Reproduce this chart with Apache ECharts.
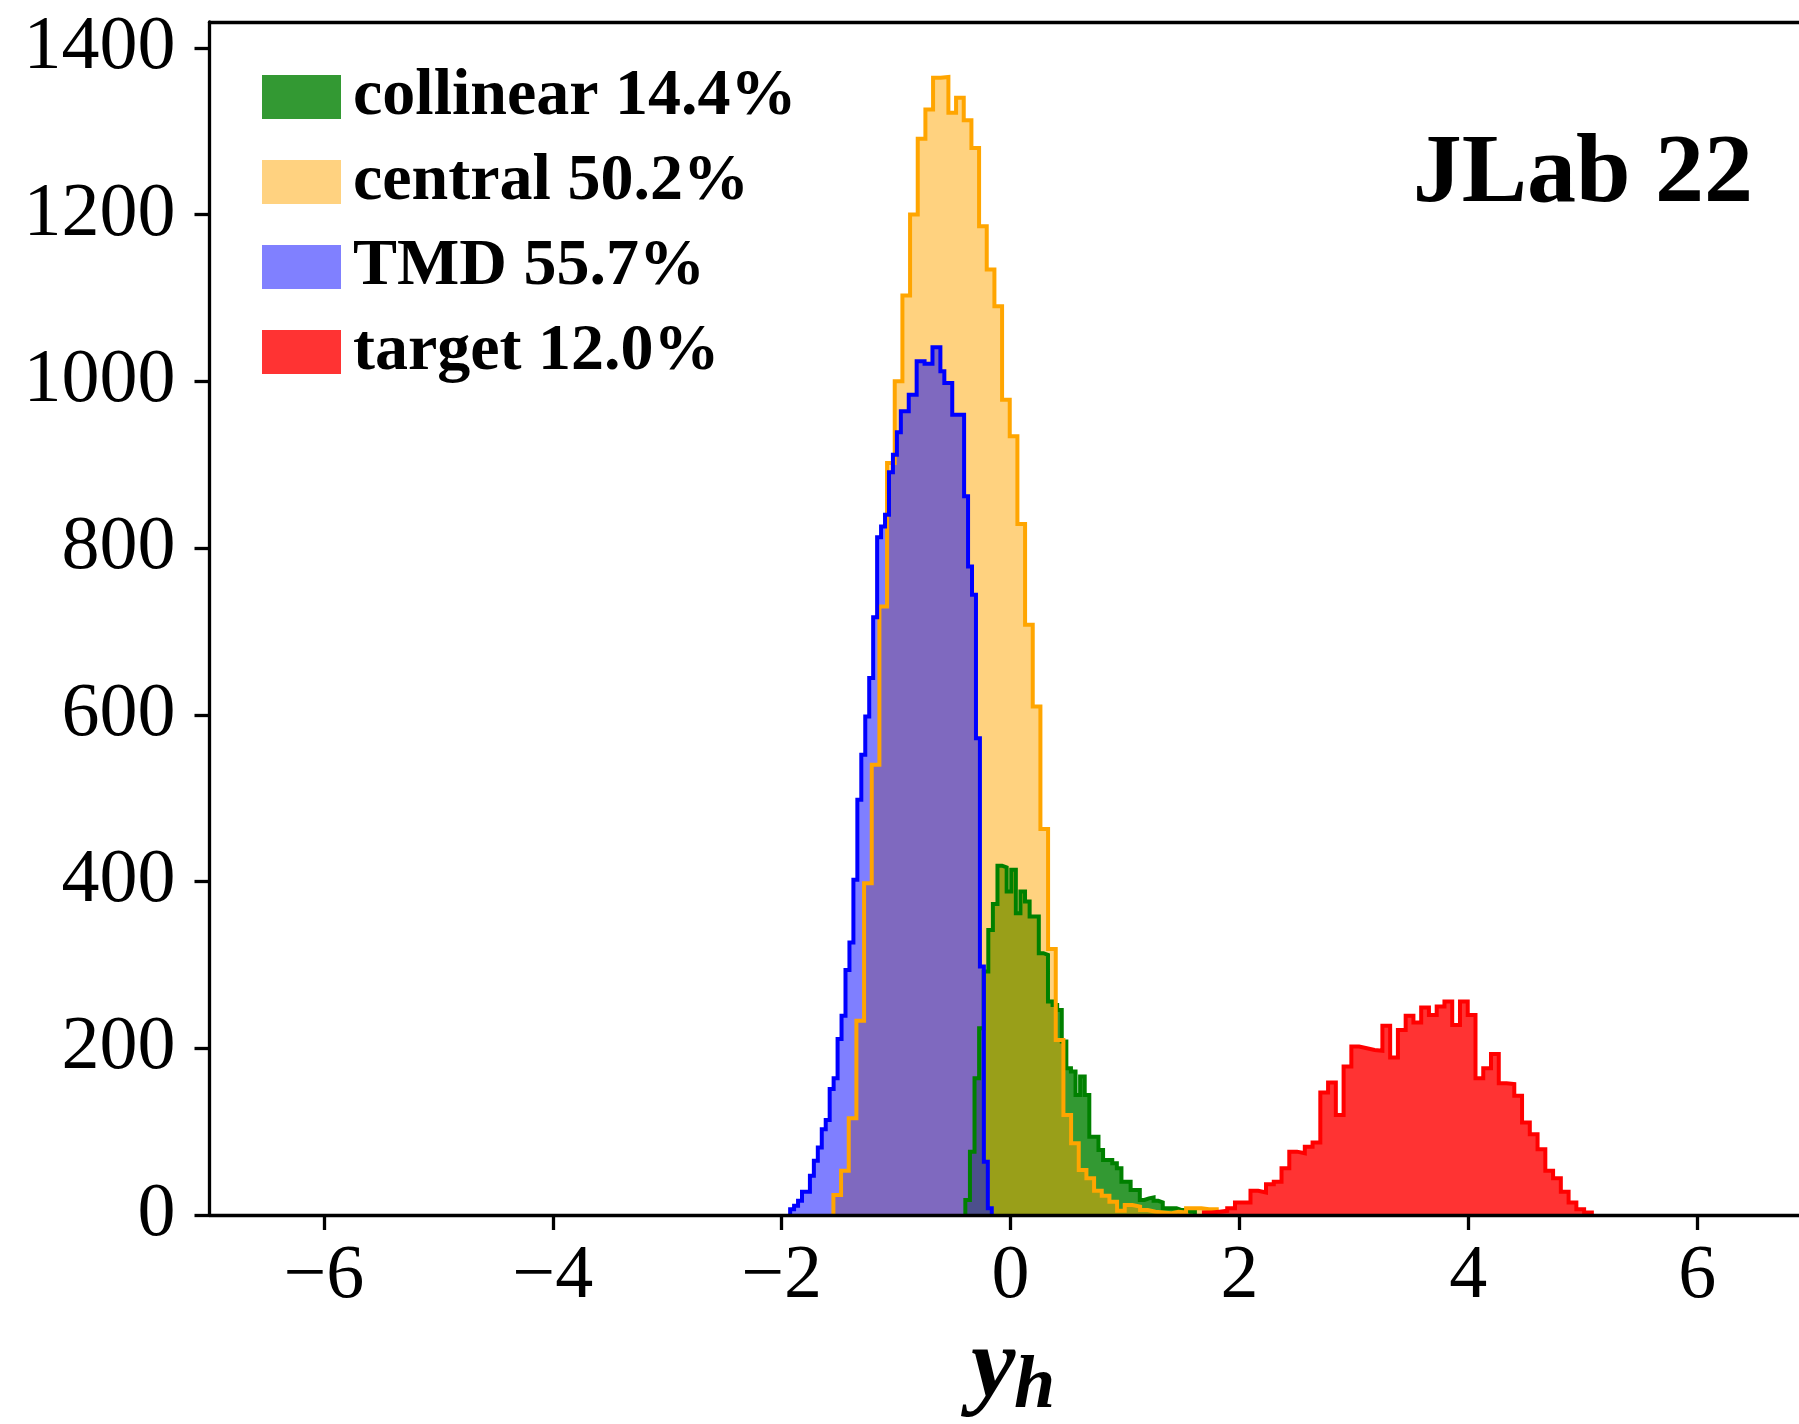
<!DOCTYPE html>
<html>
<head>
<meta charset="utf-8">
<script src="https://cdn.jsdelivr.net/npm/echarts@6/dist/echarts.min.js"></script>
<style>
  html, body { margin: 0; padding: 0; background: #fff; }
  #chart { width: 1799px; height: 1424px; }
</style>
</head>
<body>
<div id="chart"></div>
<script>
// Axis ticks
const xTickValues = [-6, -4, -2, 0, 2, 4, 6];
const yTickValues = [0, 200, 400, 600, 800, 1000, 1200, 1400];

// Legend labels (region name + fraction of events)
const seriesLabels = ['collinear 14.4%', 'central 50.2%', 'TMD 55.7%', 'target 12.0%'];

// Histogram of y_h per region: [first edge, last edge] and counts in equal-width bins
const collinearRange = [-0.395, 1.611];
const collinearCounts = [18, 76, 164, 224, 292, 342, 373, 419, 417, 388,
  414, 362, 388, 376, 358, 358, 314, 312, 256, 252,
  246, 208, 176, 172, 144, 166, 144, 94, 94, 78,
  66, 66, 62, 56, 40, 40, 30, 30, 18, 20,
  21, 17, 15, 8, 8, 8, 6, 6, 4, 4];

const centralRange = [-1.548, 1.802];
const centralCounts = [24, 53, 116, 233, 398, 540, 730, 902, 1000, 1103,
  1200, 1291, 1326, 1364, 1365, 1322, 1340, 1313, 1280, 1186,
  1134, 1090, 978, 934, 829, 708, 610, 463, 319, 210,
  120, 86, 54, 44, 29, 23, 16, 5, 12, 10,
  6, 4, 3, 2, 4, 3, 8, 8, 7, 7];

const tmdRange = [-1.926, -0.164];
const tmdCounts = [7, 11, 17, 28, 28, 47, 65, 81, 103, 114,
  151, 164, 211, 239, 294, 327, 402, 498, 552, 598,
  644, 717, 813, 826, 840, 891, 912, 939, 964, 964,
  984, 984, 1024, 1024, 1021, 1021, 1041, 1041, 1012, 998,
  998, 960, 960, 960, 862, 778, 744, 572, 298, 64, 8];

const targetRange = [1.69, 5.08];
const targetCounts = [3, 4, 5, 8, 15, 15, 29, 27, 37, 40,
  56, 76, 74, 82, 87, 147, 159, 120, 178, 202,
  200, 198, 197, 227, 189, 222, 239, 231, 249, 240,
  250, 256, 228, 256, 240, 164, 176, 193, 158, 157,
  143, 111, 97, 79, 53, 44, 28, 15, 7, 3];

// Turn bin counts into the outline of a step histogram
function stepPoints(range, counts) {
  const n = counts.length;
  const w = (range[1] - range[0]) / n;
  const pts = [[range[0], 0]];
  for (let i = 0; i < n; i++) {
    const a = range[0] + i * w;
    const b = range[0] + (i + 1) * w;
    pts.push([a, counts[i]], [b, counts[i]]);
  }
  pts.push([range[1], 0]);
  return pts;
}

const hists = [
  { name: seriesLabels[0], range: collinearRange, counts: collinearCounts, line: '#008000', fill: 'rgba(0,128,0,0.8)', legend: '#339933' },
  { name: seriesLabels[1], range: centralRange, counts: centralCounts, line: '#ffa500', fill: 'rgba(255,165,0,0.5)', legend: '#ffd280' },
  { name: seriesLabels[2], range: tmdRange, counts: tmdCounts, line: '#0000ff', fill: 'rgba(0,0,255,0.5)', legend: '#8080ff' },
  { name: seriesLabels[3], range: targetRange, counts: targetCounts, line: '#ff0000', fill: 'rgba(255,0,0,0.8)', legend: '#ff3333' }
];

const serif = '"Liberation Serif", "DejaVu Serif", serif';
const spine = { color: '#000', width: 3.3 };

// Filled bodies first, outlines on top of every fill
const fillSeries = hists.map(h => ({
  name: h.name,
  type: 'line',
  data: stepPoints(h.range, h.counts),
  symbol: 'none',
  silent: true,
  lineStyle: { width: 0, opacity: 0 },
  itemStyle: { color: h.legend },
  areaStyle: { color: h.fill, opacity: 1 },
  z: 2
}));

const lineSeries = hists.map(h => ({
  name: h.name + ' outline',
  type: 'line',
  data: stepPoints(h.range, h.counts),
  symbol: 'none',
  silent: true,
  lineStyle: { width: 4, color: h.line, join: 'miter', cap: 'butt' },
  itemStyle: { color: h.line },
  z: 3
}));

const chart = echarts.init(document.getElementById('chart'), null, { renderer: 'canvas' });

chart.setOption({
  backgroundColor: '#ffffff',
  animation: false,
  grid: { left: 209.5, top: 22, right: 0, bottom: 209, show: false },
  legend: {
    orient: 'vertical',
    left: 262, top: 64, padding: 0,
    itemWidth: 79, itemHeight: 44, itemGap: 19,
    selectedMode: false,
    icon: 'rect',
    data: hists.map(h => ({ name: h.name, icon: 'rect', itemStyle: { color: h.legend, borderWidth: 0 } })),
    textStyle: { fontFamily: serif, fontWeight: 'bold', fontSize: 66, color: '#000', padding: [14, 0, 0, 7] }
  },
  xAxis: [{
    type: 'value', min: -7, max: 6.89, position: 'bottom',
    axisLine: { show: true, onZero: false, lineStyle: spine },
    axisTick: { show: true, length: 15, lineStyle: spine, customValues: xTickValues },
    axisLabel: {
      customValues: xTickValues, margin: 24, fontFamily: serif, fontSize: 76, color: '#000',
      formatter: v => String(v).replace('-', '\u2212')
    },
    splitLine: { show: false },
    z: 10
  }, {
    // upper frame edge
    type: 'value', min: -7, max: 6.89, position: 'top',
    axisLine: { show: true, onZero: false, lineStyle: spine },
    axisTick: { show: false }, axisLabel: { show: false }, splitLine: { show: false },
    z: 10
  }],
  yAxis: {
    type: 'value', min: 0, max: 1431, position: 'left',
    axisLine: { show: true, onZero: false, lineStyle: spine },
    axisTick: { show: true, length: 15, lineStyle: spine, customValues: yTickValues },
    axisLabel: {
      customValues: yTickValues, margin: 34, fontFamily: serif, fontSize: 76, color: '#000',
      formatter: v => String(v)
    },
    splitLine: { show: false },
    z: 10
  },
  graphic: [
    { type: 'text', right: 46, top: 127, z: 20,
      style: { text: 'JLab 22', font: 'bold 98px ' + serif, fill: '#000' } },
    { type: 'text', left: 971, top: 1320, z: 20,
      style: { text: 'y', font: 'italic bold 100px ' + serif, fill: '#000' } },
    { type: 'text', left: 1014, top: 1351, z: 20,
      style: { text: 'h', font: 'italic bold 74px ' + serif, fill: '#000' } }
  ],
  series: fillSeries.concat(lineSeries)
});
</script>
</body>
</html>
